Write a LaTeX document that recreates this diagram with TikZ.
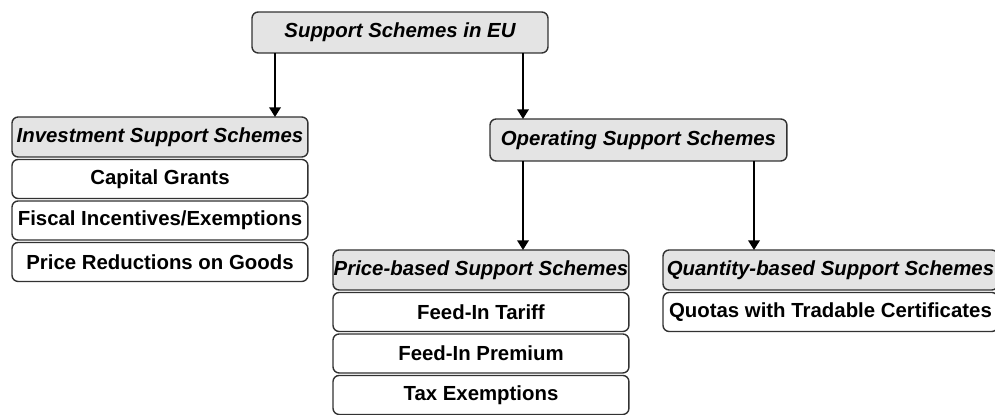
\documentclass[tikz,border=0pt]{standalone}
\usepackage{fontspec}
\setmainfont{Liberation Sans}
\usetikzlibrary{positioning,arrows.meta}

\definecolor{headgray}{RGB}{228,228,228}
\definecolor{edgegray}{RGB}{50,50,50}

\tikzset{
    box/.style={draw=edgegray, line width=0.8pt, rounded corners=3.5pt, fill=white,
        minimum width=5.92cm, minimum height=0.78cm, inner sep=0pt, outer sep=0pt,
        font=\fontsize{11.6}{13}\selectfont\bfseries},
    headbox/.style={box, fill=headgray, minimum height=0.8cm,
        font=\fontsize{11.6}{13}\selectfont\bfseries\itshape},
    arr/.style={line width=1.2pt, -{Triangle[length=5.5pt,width=6.5pt]}}
}

\begin{document}
\begin{tikzpicture}[x=0.02cm, y=-0.02cm]

    % Fix the page to the size of the reference
    \clip (0,0) rectangle (995,415);
    \useasboundingbox (0,0) rectangle (995,415);

    % Top of the tree
    \node[headbox, minimum height=0.82cm] (eu) at (400,32.5) {Support Schemes in EU};

    % Left branch: investment support and its instruments
    \node[headbox, anchor=north west] (inv) at (12,117) {Investment Support Schemes};
    \node[box, below=0.05cm of inv] (grants) {Capital Grants};
    \node[box, below=0.05cm of grants] (fiscal) {Fiscal Incentives/Exemptions};
    \node[box, below=0.05cm of fiscal] (goods) {Price Reductions on Goods};

    % Right branch: operating support
    \node[headbox, anchor=north west, minimum width=5.94cm, minimum height=0.84cm] (oper) at (490,119) {Operating Support Schemes};

    % Price-based schemes
    \node[headbox, anchor=north west] (price) at (333,250) {Price-based Support Schemes};
    \node[box, below=0.05cm of price] (fit) {Feed-In Tariff};
    \node[box, below=0.05cm of fit] (fip) {Feed-In Premium};
    \node[box, below=0.05cm of fip] (tax) {Tax Exemptions};

    % Quantity-based schemes (runs off the right edge)
    \node[headbox, anchor=north west, minimum width=6.7cm] (quant) at (663,250) {Quantity-based Support Schemes};
    \node[box, below=0.05cm of quant, minimum width=6.7cm] (quota) {Quotas with Tradable Certificates};

    % Columns where the arrows run
    \coordinate (colA) at (275,0);
    \coordinate (colB) at (523,0);
    \coordinate (colC) at (754,0);

    % Arrows between the levels
    \draw[arr] (eu.south -| colA) -- (inv.north -| colA);
    \draw[arr] (eu.south -| colB) -- (oper.north -| colB);
    \draw[arr] (oper.south -| colB) -- (price.north -| colB);
    \draw[arr] (oper.south -| colC) -- (quant.north -| colC);

\end{tikzpicture}
\end{document}
